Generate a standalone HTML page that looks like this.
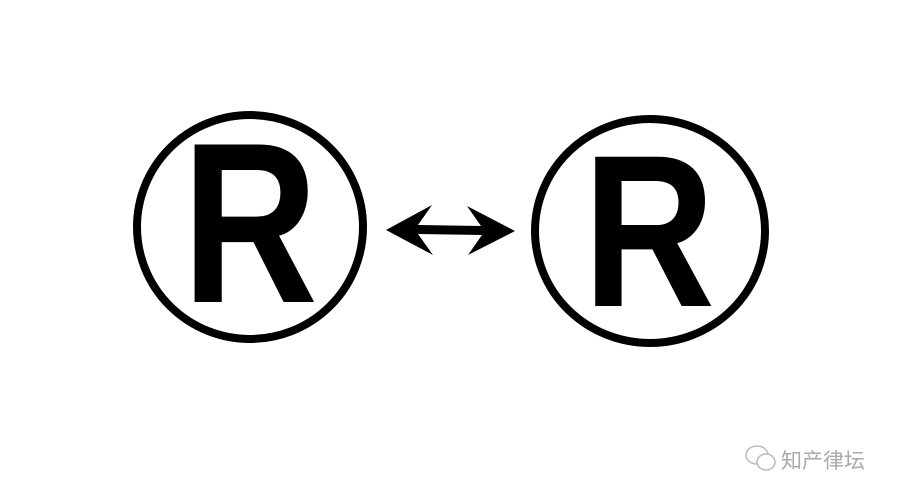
<!DOCTYPE html>
<html><head><meta charset="utf-8"><style>
html,body{margin:0;padding:0;background:#fff;width:900px;height:500px;overflow:hidden}
</style></head><body>
<svg width="900" height="500" viewBox="0 0 900 500" xmlns="http://www.w3.org/2000/svg">
<rect width="900" height="500" fill="#fff"/>
<ellipse cx="250" cy="227" rx="113" ry="112" fill="none" stroke="#000" stroke-width="8"/>
<ellipse cx="650" cy="231" rx="115" ry="112" fill="none" stroke="#000" stroke-width="8"/>
<text x="182" y="302" font-family="Liberation Sans, sans-serif" font-weight="bold" font-size="229" textLength="136" lengthAdjust="spacingAndGlyphs">R</text>
<text x="583" y="306" font-family="Liberation Sans, sans-serif" font-weight="bold" font-size="217" textLength="132" lengthAdjust="spacingAndGlyphs">R</text>
<polygon points="386,230 432,205 418,225 481,226 467,206 515,231 468,255 482,235 418,234 433,255" fill="#000"/>
<g fill="none" stroke="#bbb" stroke-width="1.5">
<ellipse cx="757" cy="455" rx="11" ry="9"/>
<ellipse cx="766" cy="462" rx="9" ry="8" fill="#fff"/>
</g>
<text x="781" y="468" font-family="Liberation Sans, 'Noto Sans CJK SC', sans-serif" font-size="21" fill="#aaa">知产律坛</text>
</svg>
</body></html>
